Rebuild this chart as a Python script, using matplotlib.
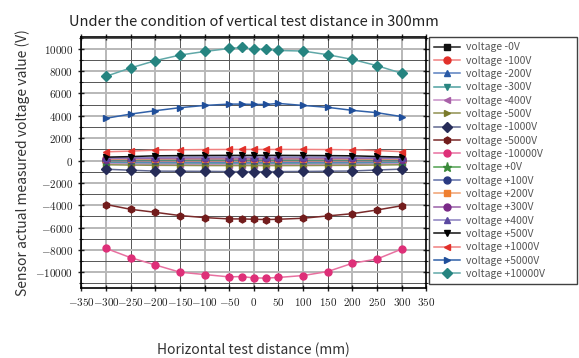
import numpy as np
import matplotlib
matplotlib.use("Agg")
import matplotlib.pyplot as plt
from matplotlib.ticker import MultipleLocator, FuncFormatter

plt.rcParams['mathtext.fontset'] = 'cm'
plt.rcParams['font.family'] = ['Noto Sans CJK SC', 'DejaVu Sans']

# horizontal positions (mm)
x = [-300, -250, -200, -150, -100, -50, -25, 0, 25, 50, 100, 150, 200, 250, 300]

labels = ['voltage -0V', 'voltage -100V', 'voltage -200V', 'voltage -300V',
          'voltage -400V', 'voltage -500V', 'voltage -1000V', 'voltage -5000V',
          'voltage -10000V', 'voltage +0V', 'voltage +100V', 'voltage +200V',
          'voltage +300V', 'voltage +400V', 'voltage +500V', 'voltage +1000V',
          'voltage +5000V', 'voltage +10000V']

m0n = [20, 25, 30, 30, 30, 30, 30, 30, 30, 30, 30, 30, 30, 25, 20]
m100n = [-70, -80, -85, -90, -90, -90, -90, -90, -90, -90, -90, -90, -85, -80, -70]
m200n = [-150, -160, -170, -180, -180, -185, -185, -185, -185, -185, -180, -180, -170, -160, -150]
m300n = [-230, -250, -260, -270, -275, -280, -280, -280, -280, -280, -275, -270, -260, -250, -230]
m400n = [-300, -320, -340, -350, -360, -365, -365, -365, -365, -365, -360, -350, -340, -320, -300]
m500n = [-380, -410, -430, -440, -450, -455, -455, -455, -455, -455, -450, -440, -430, -410, -380]
m1000n = [-780, -870, -950, -960, -970, -990, -990, -1000, -1000, -990, -980, -960, -940, -850, -770]
m5000n = [-3940, -4370, -4640, -4930, -5110, -5230, -5230, -5260, -5290, -5260, -5170, -4960, -4760, -4430, -4050]
m10000n = [-7870, -8700, -9350, -10000, -10210, -10420, -10390, -10510, -10530, -10470, -10300, -9940, -9200, -8820, -7930]
m0p = [0, 5, 10, 10, 10, 10, 10, 10, 10, 10, 10, 10, 10, 5, 0]
m100p = [60, 70, 75, 80, 80, 80, 80, 80, 80, 80, 80, 80, 75, 70, 60]
m200p = [110, 130, 140, 150, 155, 160, 160, 160, 160, 160, 155, 150, 140, 130, 110]
m300p = [170, 190, 210, 220, 230, 235, 235, 235, 235, 235, 230, 220, 210, 190, 170]
m400p = [230, 260, 280, 300, 305, 310, 310, 310, 310, 310, 305, 300, 280, 260, 230]
m500p = [300, 350, 420, 440, 450, 460, 460, 460, 460, 460, 450, 440, 420, 360, 310]
m1000p = [780, 840, 930, 960, 980, 990, 990, 990, 990, 990, 990, 980, 960, 890, 790]
m5000p = [3780, 4160, 4460, 4730, 4930, 5050, 5050, 5020, 5020, 5110, 4930, 4760, 4490, 4280, 3930]
m10000p = [7540, 8290, 8940, 9440, 9760, 10030, 10120, 9970, 9940, 9850, 9800, 9470, 9050, 8490, 7810]

series = [m0n, m100n, m200n, m300n, m400n, m500n, m1000n, m5000n, m10000n,
          m0p, m100p, m200p, m300p, m400p, m500p, m1000p, m5000p, m10000p]

markers = ['s', 'o', '^', 'v', '<', '>', 'D', 'h', 'o',
           '*', 'o', 's', 'o', '^', 'v', '<', '>', 'D']
mcolors = ['#111111', '#e2302a', '#2a5aa6', '#2a8580', '#a860a8', '#7a7a2a', '#262c58', '#721c1c', '#de2f78',
           '#3a8a3a', '#2a3a82', '#ef7f30', '#7a2a88', '#5a48a0', '#000000', '#e2302a', '#1f4e9a', '#268480']
lcolors = ['#222222', '#f08080', '#5a80c0', '#50a0a0', '#c890c8', '#909050', '#606890', '#7a2a2a', '#e870a0',
           '#50a050', '#6070a8', '#f0a070', '#9a60a8', '#8a80c0', '#111111', '#f08080', '#3060a8', '#60a8a8']

fig = plt.figure(figsize=(5.79, 3.58), dpi=100)
ax = fig.add_axes([0.1406, 0.196, 0.5957, 0.7004])

for y, lab, mk, mc, lc in zip(series, labels, markers, mcolors, lcolors):
    ax.plot(x, y, label=lab, marker=mk, color=lc, markerfacecolor=mc, markeredgecolor=mc,
            markersize=5 if mk != '*' else 6.5, linewidth=1.1, zorder=3)

ax.set_xlim(-350, 350)
ax.set_ylim(-11400, 11050)
ax.xaxis.set_major_locator(MultipleLocator(100))
ax.xaxis.set_minor_locator(MultipleLocator(50))
ax.yaxis.set_major_locator(MultipleLocator(2000))
ax.yaxis.set_minor_locator(MultipleLocator(1000))
fmt = FuncFormatter(lambda v, p: '$%d$' % round(v))
ax.xaxis.set_major_formatter(fmt)
ax.xaxis.set_minor_formatter(fmt)
ax.yaxis.set_major_formatter(fmt)
ax.tick_params(which='both', direction='inout', top=True, right=True, labelsize=8, colors='#222222')
ax.tick_params(which='major', length=5, width=1)
ax.tick_params(which='minor', length=3, width=0.8)
ax.tick_params(axis='x', which='minor', length=5, width=1)

ax.grid(which='major', color='#b8b8b8', linewidth=1.4, zorder=0)
ax.grid(which='minor', color='#555555', linewidth=0.7, zorder=0)
ax.set_axisbelow(True)
for s in ax.spines.values():
    s.set_linewidth(1.2)

ax.set_title('Under the condition of vertical test distance in 300mm', fontsize=10.5,
             color='#222222', pad=8, x=0.5)
ax.set_xlabel('Horizontal test distance (mm)', fontsize=10, color='#333333', labelpad=25)
ax.set_ylabel('Sensor actual measured voltage value (V)', fontsize=10, color='#333333', labelpad=4)

leg = ax.legend(loc='upper left', bbox_to_anchor=(1.007, 0.0, 0.43, 1.0), mode='expand',
                borderaxespad=0, fontsize=7.5, labelspacing=0.32, handlelength=2.5,
                handletextpad=0.6, frameon=True, fancybox=False, edgecolor='#111111',
                borderpad=0.5)
leg.get_frame().set_linewidth(1.0)
for t in leg.get_texts():
    t.set_color('#555555')

fig.savefig('out.png', dpi=100)
